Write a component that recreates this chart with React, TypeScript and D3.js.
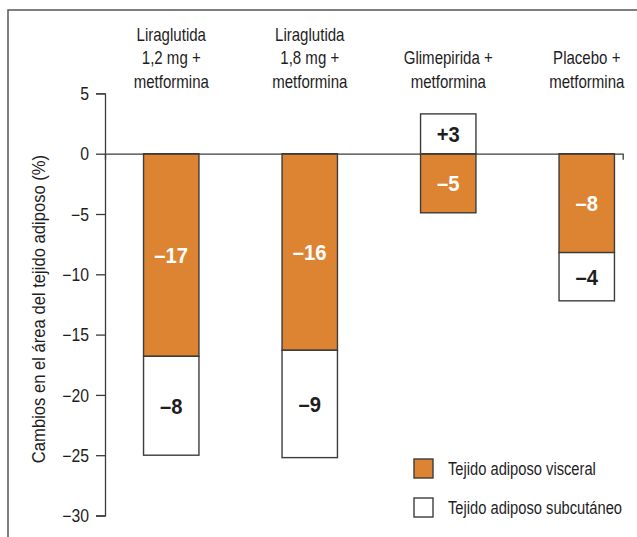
import React, { useEffect, useRef } from 'react';
import * as d3 from 'd3';

// categories, each split in lines as printed above the bars
const categories = ['lira12', 'lira18', 'glim', 'plac'];
const categoryLines = [
  ['Liraglutida', '1,2 mg +', 'metformina'],
  ['Liraglutida', '1,8 mg +', 'metformina'],
  ['Glimepirida +', 'metformina'],
  ['Placebo +', 'metformina'],
];

// change in area (%)
const visceral = [-16.8, -16.3, -4.9, -8.2];
const subcutaneo = [-8.2, -8.9, 3.3, -4.0];
// printed values
const visceralLabels = ['\u201317', '\u201316', '\u20135', '\u20138'];
const subcutaneoLabels = ['\u20138', '\u20139', '+3', '\u20134'];

const yTicks = [5, 0, -5, -10, -15, -20, -25, -30];
const legendLabels = ['Tejido adiposo visceral', 'Tejido adiposo subcut\u00e1neo'];
const yTitle = 'Cambios en el \u00e1rea del tejido adiposo (%)';

const FONT = "'Liberation Sans', Arial, sans-serif";
const SQUEEZE = 0.86; // condensed look
const ORANGE = '#dd8432';
const STROKE = '#3c3c3c';
const TEXT = '#1e1e1e';

const App = () => {
  const ref = useRef<SVGSVGElement>(null);

  useEffect(() => {
    const svg = d3.select(ref.current);
    svg.selectAll('*').remove();

    // draws a horizontally condensed text at (x, y)
    const label = (parent: any, tx: number, ty: number, str: string, size: number, opts: any = {}) =>
      parent.append('text')
        .attr('transform', `translate(${tx},${ty}) scale(${opts.squeeze ?? SQUEEZE},1)`)
        .attr('text-anchor', opts.anchor ?? 'middle')
        .attr('font-family', FONT)
        .attr('font-size', size)
        .attr('font-weight', opts.bold ? 'bold' : 'normal')
        .attr('fill', opts.fill ?? TEXT)
        .text(str);

    // frame (left and top edges visible)
    svg.append('path')
      .attr('d', 'M8,537V10H637')
      .attr('fill', 'none')
      .attr('stroke', '#555')
      .attr('stroke-width', 1.5);

    const y = d3.scaleLinear().domain([-30, 5]).range([515.5, 93.4]);
    const x = d3.scaleBand<string>()
      .domain(categories)
      .range([102, 656])
      .paddingInner(0.6)
      .paddingOuter(0.3);

    const rows = categories.map((c, i) => ({ cat: c, visceral: visceral[i], subcutaneo: subcutaneo[i] }));
    const stack = d3.stack<any>()
      .keys(['visceral', 'subcutaneo'])
      .offset(d3.stackOffsetDiverging);
    const series = stack(rows);

    // bars
    series.forEach((s) => {
      const fill = s.key === 'visceral' ? ORANGE : '#fff';
      svg.append('g')
        .selectAll('rect')
        .data(s)
        .enter()
        .append('rect')
        .attr('x', (d: any) => x(d.data.cat) ?? 0)
        .attr('width', x.bandwidth())
        .attr('y', (d: any) => y(Math.max(d[0], d[1])))
        .attr('height', (d: any) => Math.abs(y(d[0]) - y(d[1])))
        .attr('fill', fill)
        .attr('stroke', STROKE)
        .attr('stroke-width', 1.4);
    });

    // bar value labels
    series.forEach((s) => {
      const labels = s.key === 'visceral' ? visceralLabels : subcutaneoLabels;
      const g = svg.append('g');
      s.forEach((d: any, i: number) => {
        label(
          g,
          (x(d.data.cat) ?? 0) + x.bandwidth() / 2,
          (y(d[0]) + y(d[1])) / 2 + 8,
          labels[i],
          22,
          { bold: true, squeeze: 0.92, fill: s.key === 'visceral' ? '#fff' : TEXT },
        );
      });
    });

    // zero baseline with end tick
    const xLine = d3.scaleLinear().domain([0, 1]).range([105, 622.7]);
    svg.append('g')
      .attr('transform', `translate(0,${y(0)})`)
      .call(d3.axisBottom(xLine).tickValues([]).tickSizeOuter(6))
      .call((g) => g.select('.domain').attr('stroke', STROKE).attr('stroke-width', 1.3));

    // y axis
    const yAxis = svg.append('g')
      .attr('transform', 'translate(105,0)')
      .call(d3.axisLeft(y).tickValues(yTicks).tickSize(9).tickSizeOuter(9).tickPadding(7));
    yAxis.select('.domain').attr('stroke', STROKE).attr('stroke-width', 1.3);
    yAxis.selectAll('.tick line').attr('stroke', STROKE).attr('stroke-width', 1.3);
    yAxis.selectAll('.tick text')
      .attr('x', 0)
      .attr('transform', `translate(-16,0) scale(0.9,1)`)
      .attr('font-family', FONT)
      .attr('font-size', 17.5)
      .attr('fill', TEXT)
      .attr('dy', '0.35em');

    // y title
    svg.append('text')
      .attr('transform', 'translate(45,309) rotate(-90) scale(0.95,1)')
      .attr('text-anchor', 'middle')
      .attr('font-family', FONT)
      .attr('font-size', 17.5)
      .attr('fill', TEXT)
      .text(yTitle);

    // category labels, bottom aligned
    categories.forEach((c, i) => {
      const lines = categoryLines[i];
      const cx = (x(c) ?? 0) + x.bandwidth() / 2;
      lines.forEach((l, j) => {
        label(svg, cx, 87.5 - (lines.length - 1 - j) * 23.3, l, 17.5);
      });
    });

    // legend
    const legend = svg.append('g');
    legendLabels.forEach((l, i) => {
      const ly = 459 + i * 39;
      legend.append('rect')
        .attr('x', 414)
        .attr('y', ly)
        .attr('width', 19)
        .attr('height', 19)
        .attr('fill', i === 0 ? ORANGE : '#fff')
        .attr('stroke', STROKE)
        .attr('stroke-width', 1.4);
      label(legend, 448, ly + 15.5, l, 17.5, { anchor: 'start', squeeze: 0.84 });
    });
  }, []);

  return (
    <svg
      ref={ref}
      width={637}
      height={537}
      style={{ position: 'absolute', left: 0, top: 0, background: '#fff' }}
    />
  );
};

export default App;
